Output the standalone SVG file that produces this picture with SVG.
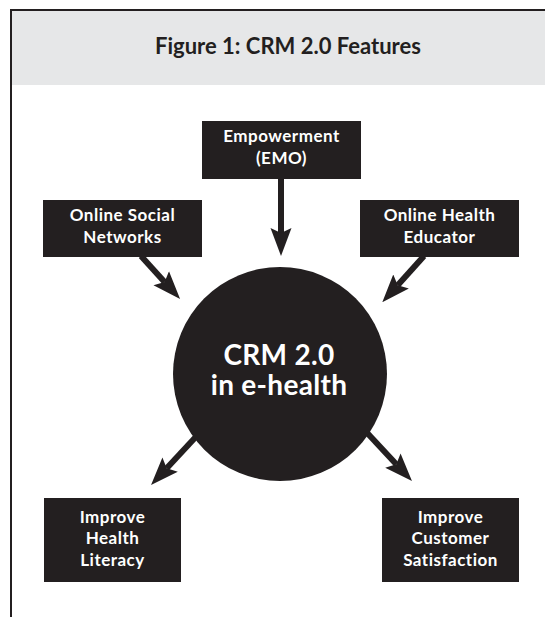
<svg xmlns="http://www.w3.org/2000/svg" width="545" height="617" viewBox="0 0 545 617">
<style>
.box{fill:#231f20}
.bt{font-family:Lato,"Noto Sans",sans-serif;font-weight:bold;font-size:17px;fill:#ffffff;text-anchor:middle;letter-spacing:0.5px}
.ct{font-family:Lato,"Noto Sans",sans-serif;font-weight:bold;font-size:28px;fill:#ffffff;text-anchor:middle;letter-spacing:0.3px}
.title{font-family:Lato,"Noto Sans",sans-serif;font-weight:bold;font-size:22px;fill:#231f20;text-anchor:middle}
.conn line{stroke:#231f20;stroke-width:6;fill:none;marker-end:url(#ah)}
</style>
<defs>
<marker id="ah" markerUnits="userSpaceOnUse" viewBox="0 -11 28 22" refX="5" refY="0" markerWidth="28" markerHeight="22" orient="auto">
<path d="M0,-10.5 L28,0 L0,10.5 L5,0 Z" fill="#231f20"/>
</marker>
</defs>
<rect x="0" y="0" width="545" height="617" fill="#ffffff"/>
<g id="frame">
<rect x="12" y="11" width="533" height="74" fill="#e6e7e8"/>
<line x1="11" y1="10" x2="11" y2="617" stroke="#231f20" stroke-width="2"/>
<line x1="10" y1="10" x2="545" y2="10" stroke="#231f20" stroke-width="2"/>
<text class="title" x="288" y="54">Figure 1: CRM 2.0 Features</text>
</g>
<g class="conn" id="connectors">
<line x1="281" y1="178" x2="281" y2="233"/>
<line x1="141" y1="256" x2="164.6" y2="281.9"/>
<line x1="424" y1="256" x2="397.7" y2="285.2"/>
<line x1="205" y1="427" x2="166.7" y2="468.2"/>
<line x1="357" y1="422" x2="396.3" y2="464.2"/>
</g>
<g id="center">
<circle cx="280" cy="374" r="107" fill="#231f20"/>
<text class="ct" x="279" y="365">CRM 2.0</text>
<text class="ct" x="279" y="395">in e-health</text>
</g>
<g id="empowerment">
<rect class="box" x="202" y="121" width="159" height="58"/>
<text class="bt" x="281.5" y="142">Empowerment</text>
<text class="bt" x="281.5" y="164">(EMO)</text>
</g>
<g id="online-social">
<rect class="box" x="43" y="200" width="159" height="57"/>
<text class="bt" x="122.5" y="221">Online Social</text>
<text class="bt" x="122.5" y="243">Networks</text>
</g>
<g id="online-health">
<rect class="box" x="360" y="200" width="159" height="57"/>
<text class="bt" x="439.5" y="221">Online Health</text>
<text class="bt" x="439.5" y="243">Educator</text>
</g>
<g id="health-literacy">
<rect class="box" x="44" y="498" width="137" height="84"/>
<text class="bt" x="112.5" y="523">Improve</text>
<text class="bt" x="112.5" y="544">Health</text>
<text class="bt" x="112.5" y="566">Literacy</text>
</g>
<g id="customer-satisfaction">
<rect class="box" x="382" y="498" width="137" height="84"/>
<text class="bt" x="450.5" y="523">Improve</text>
<text class="bt" x="450.5" y="544">Customer</text>
<text class="bt" x="450.5" y="566">Satisfaction</text>
</g>
</svg>
